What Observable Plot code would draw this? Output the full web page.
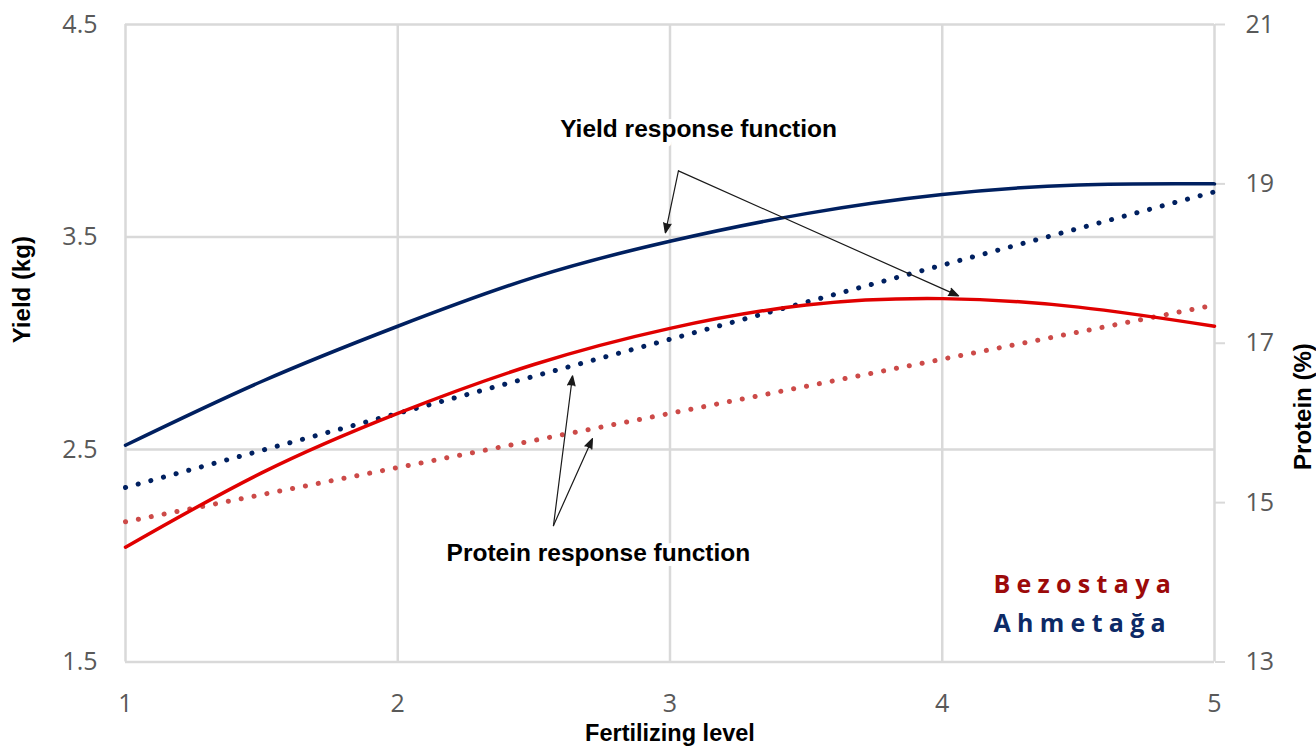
<!DOCTYPE html>
<html>
<head>
<meta charset="utf-8">
<script src="https://cdn.jsdelivr.net/npm/d3@7"></script>
<script src="https://cdn.jsdelivr.net/npm/@observablehq/plot@0.6"></script>
<style>
  body { margin: 0; background: #fff; }
</style>
</head>
<body>
<div id="chart"></div>
<script>
// Fertilizing levels at which the curves were read
const levels = [1, 1.5, 2, 2.5, 3, 3.5, 4, 4.5, 5];
// Yield response (kg) – left axis
const yieldAhmetaga = [2.52, 2.82, 3.08, 3.31, 3.48, 3.61, 3.70, 3.745, 3.75];
const yieldBezostaya = [2.04, 2.39, 2.67, 2.90, 3.07, 3.18, 3.21, 3.17, 3.08];
// Protein response (%) – right axis
const proteinLevels = [1, 2, 3, 4, 5];
const proteinAhmetaga = [15.19, 16.12, 17.05, 17.98, 18.90];
const proteinBezostaya = [14.76, 15.44, 16.12, 16.80, 17.48];
// Axis ticks
const xTicks = [1, 2, 3, 4, 5];
const yieldTicks = [1.5, 2.5, 3.5, 4.5];
const proteinTicks = [13, 15, 17, 19, 21];
// Varieties
const varieties = ["Bezostaya", "Ahmetağa"];
const varietyLegendY = [1.864, 1.681];
const legendX = 4.188;
// Annotations (data coordinates)
const annotationLabels = ["Yield response function", "Protein response function"];
const annotationX = [3.105, 2.737];
const annotationY = [4.008, 2.01];
const arrowFrom = [[3.031, 3.811], [3.031, 3.811], [2.572, 2.142], [2.572, 2.142]];
const arrowTo = [[2.983, 3.519], [4.06, 3.223], [2.642, 2.847], [2.715, 2.551]];

const BLUE = "#002060", RED = "#e00000", RED_DOT = "#cc4a48";
const LEG_RED = "#9c0a0a", LEG_BLUE = "#0d2a66";

// protein axis (13–21) mapped onto yield axis (1.5–4.5)
const pMin = 13, pMax = 21, yMin = 1.5, yMax = 4.5;
const p2y = p => yMin + (p - pMin) * (yMax - yMin) / (pMax - pMin);
const y2p = y => pMin + (y - yMin) * (pMax - pMin) / (yMax - yMin);

const yA = levels.map((x, i) => ({x, y: yieldAhmetaga[i]}));
const yB = levels.map((x, i) => ({x, y: yieldBezostaya[i]}));
const pA = proteinLevels.map((x, i) => ({x, y: p2y(proteinAhmetaga[i])}));
const pB = proteinLevels.map((x, i) => ({x, y: p2y(proteinBezostaya[i])}));
const notes = annotationLabels.map((t, i) => ({t, x: annotationX[i], y: annotationY[i]}));
const arrows = arrowFrom.map((f, i) => ({x1: f[0], y1: f[1], x2: arrowTo[i][0], y2: arrowTo[i][1]}));
const legend = varieties.map((t, i) => ({t, y: varietyLegendY[i]}));

const grid = {stroke: "#d9d9d9", strokeOpacity: 1, strokeWidth: 2.5};
const tickFont = "'Open Sans', sans-serif";
const boldFont = "'Liberation Sans', Arial, sans-serif";

const chart = Plot.plot({
  width: 1316,
  height: 755,
  marginLeft: 125,
  marginRight: 102,
  marginTop: 24,
  marginBottom: 93.5,
  x: {domain: [1, 5]},
  y: {domain: [yMin, yMax]},
  style: {fontFamily: tickFont, background: "#fff", overflow: "visible"},
  marks: [
    Plot.gridX(xTicks, grid),
    Plot.gridY(yieldTicks, grid),
    Plot.axisX(xTicks, {tickSize: 0, tickPadding: 32, fontSize: 25, fill: "#595959", stroke: "#d9d9d9", label: null, tickFormat: d => String(d)}),
    Plot.axisY(yieldTicks, {anchor: "left", tickSize: 0, tickPadding: 28, fontSize: 25, fill: "#595959", stroke: "#d9d9d9", label: null, tickFormat: d => d.toFixed(1)}),
    Plot.axisY(proteinTicks.map(p2y), {anchor: "right", tickSize: 10, tickPadding: 21, fontSize: 25, fill: "#595959", stroke: "#d9d9d9", strokeWidth: 2, label: null, tickFormat: d => String(Math.round(y2p(d)))}),
    // protein (dotted)
    Plot.line(pB, {x: "x", y: "y", stroke: RED_DOT, strokeWidth: 5, strokeLinecap: "round", strokeDasharray: "0.1 13"}),
    Plot.line(pA, {x: "x", y: "y", stroke: BLUE, strokeWidth: 5, strokeLinecap: "round", strokeDasharray: "0.1 13"}),
    // yield (solid)
    Plot.line(yB, {x: "x", y: "y", curve: "natural", stroke: RED, strokeWidth: 3.5}),
    Plot.line(yA, {x: "x", y: "y", curve: "natural", stroke: BLUE, strokeWidth: 3.5}),
    // annotations
    Plot.arrow(arrows, {x1: "x1", y1: "y1", x2: "x2", y2: "y2", stroke: "#1a1a1a", fill: "#1a1a1a", strokeWidth: 1.2, headLength: 13, headAngle: 42}),
    Plot.text(notes, {x: "x", y: "y", text: "t", fontFamily: boldFont, fontWeight: "bold", fontSize: 24.5, fill: "#000", stroke: "#fff", strokeWidth: 10}),
    Plot.text(legend, {x: legendX, y: "y", text: "t", textAnchor: "start", fontFamily: tickFont, fontWeight: "bold", fontSize: 25, fill: (d, i) => i === 0 ? LEG_RED : LEG_BLUE}),
    // axis titles
    Plot.text(["Yield (kg)"], {frameAnchor: "left", rotate: -90, dx: -103, fontFamily: boldFont, fontWeight: "bold", fontSize: 24, fill: "#000"}),
    Plot.text(["Protein (%)"], {frameAnchor: "right", rotate: -90, dx: 89, fontFamily: boldFont, fontWeight: "bold", fontSize: 24, fill: "#000"}),
    Plot.text(["Fertilizing level"], {frameAnchor: "bottom", dy: 79, fontFamily: boldFont, fontWeight: "bold", fontSize: 23.5, fill: "#000"})
  ]
});
// letter-spaced variety labels, as in the original
chart.querySelectorAll("text").forEach(t => {
  if (varieties.includes(t.textContent)) t.style.letterSpacing = "6.3px";
});
document.getElementById("chart").appendChild(chart);
</script>
</body>
</html>
